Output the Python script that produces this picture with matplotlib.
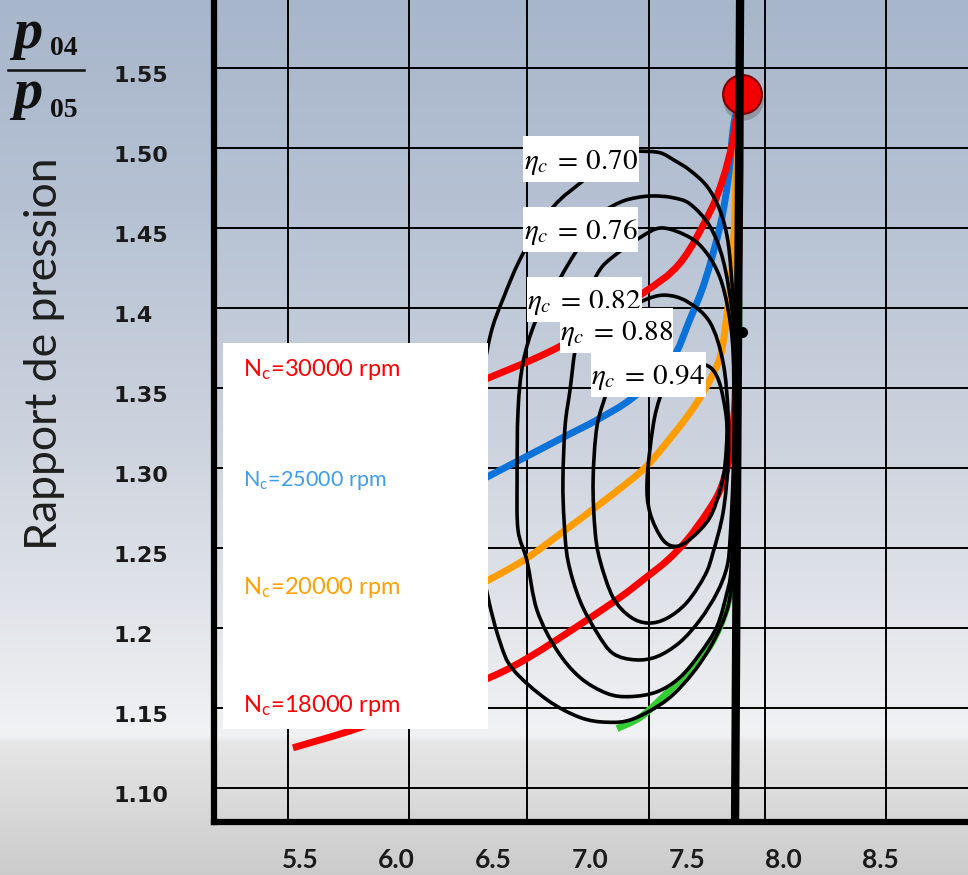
import numpy as np
import matplotlib
matplotlib.use("Agg")
import matplotlib.pyplot as plt
from matplotlib.patches import Rectangle, PathPatch
from matplotlib.path import Path
from matplotlib.transforms import ScaledTranslation

plt.rcParams["mathtext.fontset"] = "stix"

# ---------------- data ----------------
xtick_values = [5.5, 6.0, 6.5, 7.0, 7.5, 8.0, 8.5]
xtick_labels = ["5.5", "6.0", "6.5", "7.0", "7.5", "8.0", "8.5"]
ytick_values = [1.10, 1.15, 1.20, 1.25, 1.30, 1.35, 1.40, 1.45, 1.50, 1.55]
ytick_labels = ["1.10", "1.15", "1.2", "1.25", "1.30", "1.35", "1.4", "1.45", "1.50", "1.55"]
grid_x = [5.44, 6.064, 6.674, 7.305, 7.905, 8.53]

# speed lines (mass flow, pressure ratio)
n30_x = [6.431, 6.845, 7.259, 7.465, 7.620, 7.688, 7.734, 7.760, 7.770]
n30_y = [1.354, 1.376, 1.408, 1.428, 1.460, 1.481, 1.502, 1.521, 1.527]
n25_x = [6.431, 6.654, 6.860, 7.036, 7.222, 7.419, 7.517, 7.595, 7.672, 7.714, 7.739, 7.760]
n25_y = [1.292, 1.306, 1.319, 1.330, 1.344, 1.367, 1.393, 1.417, 1.451, 1.480, 1.511, 1.524]
n20_x = [6.431, 6.654, 6.860, 7.036, 7.207, 7.300, 7.398, 7.502, 7.584, 7.672, 7.708, 7.734,
         7.750, 7.755, 7.760]
n20_y = [1.227, 1.242, 1.260, 1.276, 1.292, 1.302, 1.316, 1.332, 1.347, 1.369, 1.396, 1.424,
         1.461, 1.492, 1.518]
n18_x = [5.464, 5.795, 6.121, 6.483, 6.690, 6.948, 7.155, 7.274, 7.398, 7.502, 7.605, 7.672,
         7.714, 7.734, 7.750, 7.760, 7.770, 7.776, 7.776]
n18_y = [1.125, 1.137, 1.152, 1.169, 1.182, 1.202, 1.219, 1.230, 1.242, 1.255, 1.272, 1.286,
         1.303, 1.321, 1.343, 1.386, 1.436, 1.486, 1.521]
green_x = [7.140, 7.259, 7.362, 7.502, 7.605, 7.672, 7.714, 7.739, 7.755, 7.765, 7.770]
green_y = [1.137, 1.144, 1.155, 1.172, 1.186, 1.201, 1.216, 1.234, 1.280, 1.343, 1.405]

# efficiency contours (closed loops)
eta70_x = [7.207, 7.259, 7.362, 7.440, 7.517, 7.605, 7.672, 7.714, 7.739, 7.760, 7.760, 7.750,
           7.734, 7.708, 7.636, 7.533, 7.398, 7.222, 7.088, 6.948, 6.778, 6.602, 6.535, 6.473,
           6.421, 6.405, 6.431, 6.483, 6.555, 6.654, 6.809, 6.959, 7.078, 7.207]
eta70_y = [1.498, 1.498, 1.497, 1.492, 1.486, 1.476, 1.461, 1.441, 1.409, 1.386, 1.311, 1.261,
           1.230, 1.211, 1.191, 1.172, 1.155, 1.143, 1.141, 1.144, 1.155, 1.174, 1.191, 1.219,
           1.255, 1.299, 1.343, 1.382, 1.407, 1.434, 1.463, 1.479, 1.491, 1.498]
eta76_x = [7.155, 7.243, 7.326, 7.424, 7.517, 7.620, 7.688, 7.734, 7.750, 7.755, 7.750, 7.729,
           7.708, 7.657, 7.569, 7.465, 7.346, 7.207, 7.088, 6.948, 6.829, 6.726, 6.674, 6.628,
           6.623, 6.628, 6.654, 6.716, 6.793, 6.871, 6.948, 7.052, 7.155]
eta76_y = [1.466, 1.469, 1.470, 1.469, 1.465, 1.451, 1.430, 1.399, 1.372, 1.330, 1.280, 1.236,
           1.222, 1.201, 1.184, 1.169, 1.160, 1.157, 1.159, 1.169, 1.186, 1.211, 1.242, 1.261,
           1.292, 1.336, 1.366, 1.391, 1.407, 1.424, 1.439, 1.458, 1.466]
eta82_x = [7.119, 7.259, 7.372, 7.517, 7.605, 7.672, 7.714, 7.739, 7.745, 7.739, 7.724, 7.708,
           7.657, 7.569, 7.465, 7.346, 7.233, 7.119, 7.036, 6.948, 6.886, 6.866, 6.860, 6.871,
           6.897, 6.922, 6.959, 7.000, 7.052, 7.119]
eta82_y = [1.432, 1.444, 1.450, 1.444, 1.434, 1.419, 1.399, 1.374, 1.330, 1.292, 1.255, 1.238,
           1.222, 1.205, 1.191, 1.182, 1.180, 1.184, 1.197, 1.217, 1.242, 1.267, 1.292, 1.326,
           1.349, 1.373, 1.393, 1.411, 1.424, 1.432]
eta88_x = [7.284, 7.388, 7.502, 7.620, 7.688, 7.714, 7.714, 7.688, 7.636, 7.595, 7.502, 7.398,
           7.300, 7.207, 7.119, 7.052, 7.026, 7.016, 7.036, 7.088, 7.119, 7.155, 7.217, 7.284]
eta88_y = [1.405, 1.408, 1.404, 1.391, 1.366, 1.334, 1.303, 1.272, 1.247, 1.233, 1.216, 1.206,
           1.203, 1.207, 1.219, 1.242, 1.261, 1.292, 1.326, 1.349, 1.373, 1.386, 1.399, 1.405]
eta94_x = [7.491, 7.605, 7.657, 7.688, 7.708, 7.698, 7.672, 7.620, 7.533, 7.450, 7.377, 7.310,
           7.295, 7.326, 7.362, 7.414, 7.491]
eta94_y = [1.366, 1.364, 1.357, 1.344, 1.326, 1.302, 1.286, 1.269, 1.257, 1.251, 1.255, 1.272,
           1.292, 1.326, 1.344, 1.358, 1.366]

choke_x = [7.776, 7.750]
choke_y = [1.5925, 1.0786]
point_x, point_y = 7.786, 1.534
knot_x, knot_y = 7.786, 1.385

speed_labels = ["N$_\\mathregular{c}$=30000 rpm", "N$_\\mathregular{c}$=25000 rpm",
                "N$_\\mathregular{c}$=20000 rpm", "N$_\\mathregular{c}$=18000 rpm"]
eta_labels = ["$\\eta_c\\:=\\:0.70$", "$\\eta_c\\:=\\:0.76$", "$\\eta_c\\:=\\:0.82$",
              "$\\eta_c\\:=\\:0.88$", "$\\eta_c\\:=\\:0.94$"]


def smooth_path(xs, ys, closed=False):
    """Smooth drawing path (Catmull-Rom rendered as cubic Bezier) through the given points."""
    p = np.column_stack([xs, ys]).astype(float)
    if closed:
        p = p[:-1]
        n = len(p)
        get = lambda i: p[i % n]
        nseg = n
    else:
        n = len(p)
        get = lambda i: p[min(max(i, 0), n - 1)]
        nseg = n - 1
    verts = [get(0)]
    codes = [Path.MOVETO]
    for i in range(nseg):
        p0, p1, p2, p3 = get(i - 1), get(i), get(i + 1), get(i + 2)
        c1 = p1 + (p2 - p0) / 6.0
        c2 = p2 - (p3 - p1) / 6.0
        verts += [c1, c2, p2]
        codes += [Path.CURVE4] * 3
    return Path(np.array(verts), codes)


# ---------------- figure ----------------
W, H = 968, 875
fig = plt.figure(figsize=(W / 100, H / 100), dpi=100)

# background gradient
stops_y = [0, 200, 440, 600, 735, 742, 875]
stops_c = np.array([(168, 182, 203), (181, 193, 211), (205, 211, 222), (224, 227, 233),
                    (241, 242, 244), (230, 230, 230), (203, 203, 203)]) / 255.0
rows = np.arange(H)
grad = np.stack([np.interp(rows, stops_y, stops_c[:, k]) for k in range(3)], axis=1)
bg = fig.add_axes([0, 0, 1, 1], zorder=-10)
bg.imshow(grad[:, None, :], aspect="auto", extent=[0, 1, 0, 1])
bg.axis("off")


def fx(px):
    return px / W


def fy(py):
    return 1 - py / H


ax = fig.add_axes([fx(214), fy(822), 1 - fx(214), fy(0) - fy(822)])
ax.set_facecolor("none")
ax.set_xlim(5.0558, 8.9545)
ax.set_ylim(1.07862, 1.5925)

for s in ["top", "right"]:
    ax.spines[s].set_visible(False)
for s in ["left", "bottom"]:
    ax.spines[s].set_linewidth(4.5)
    ax.spines[s].set_color("black")
    ax.spines[s].set_zorder(20)

ax.set_xticks(xtick_values)
ax.set_xticklabels(xtick_labels, fontfamily="Lato", fontweight="bold", fontsize=19, color="#1a1a1a")
ax.set_xticks(grid_x, minor=True)
ax.tick_params(axis="x", which="both", length=0, pad=19)
ax.set_yticks(ytick_values)
ax.set_yticklabels(ytick_labels, fontfamily="DejaVu Sans", fontweight="bold", fontsize=16, color="#1a1a1a")
ax.tick_params(axis="y", length=0, pad=72)
down = ScaledTranslation(0, -0.06, fig.dpi_scale_trans)
for lab in ax.get_yticklabels():
    lab.set_horizontalalignment("left")
    lab.set_transform(lab.get_transform() + down)
ax.xaxis.grid(True, which="minor", color="black", lw=1.4, zorder=1)
ax.xaxis.grid(False, which="major")
ax.yaxis.grid(True, which="major", color="black", lw=1.4, zorder=1)


def draw_curve(xs, ys, color, lw, z, closed=False):
    ax.add_patch(PathPatch(smooth_path(xs, ys, closed), facecolor="none", edgecolor=color,
                           lw=lw, capstyle="butt", joinstyle="round", zorder=z))


# speed lines
lw_speed = 5.0
draw_curve(green_x, green_y, "#33cc33", lw_speed, 3)
draw_curve(n18_x, n18_y, "#ff0000", lw_speed, 3)
draw_curve(n20_x, n20_y, "#ff9d00", lw_speed, 3)
draw_curve(n25_x, n25_y, "#0a72d8", lw_speed, 3)
draw_curve(n30_x, n30_y, "#ff0000", lw_speed, 3)

# efficiency contours
for ex, ey in [(eta70_x, eta70_y), (eta76_x, eta76_y), (eta82_x, eta82_y),
               (eta88_x, eta88_y), (eta94_x, eta94_y)]:
    draw_curve(ex, ey, "black", 2.6, 4, closed=True)

# operating point + choke line
ax.plot([point_x + 0.006], [point_y - 0.004], "o", ms=29, color="#555555", alpha=0.35,
        mec="none", zorder=7)
ax.plot([point_x], [point_y], "o", ms=28, mfc="#f20000", mec="#7a0000", mew=1.5, zorder=8)
ax.plot(choke_x, choke_y, color="black", lw=6, solid_capstyle="butt", zorder=9)
ax.plot([knot_x], [knot_y], "o", ms=7, color="black", zorder=9)

# legend box for speed lines
ax.add_patch(Rectangle((fx(223), fy(729)), fx(488) - fx(223), fy(343) - fy(729),
                       transform=fig.transFigure, facecolor="white", edgecolor="none",
                       zorder=10, clip_on=False))
legend_colors = ["#ff0000", "#3d9cf5", "#ffa000", "#ff0000"]
legend_rows = [370, 480, 587, 705]
legend_sizes = [17, 15.5, 17, 17]
for lab, col, row, sz in zip(speed_labels, legend_colors, legend_rows, legend_sizes):
    fig.text(fx(243), fy(row), lab, color=col, fontsize=sz, fontfamily="Lato",
             ha="left", va="center", zorder=11)

# efficiency labels
eta_boxes = [(523, 136, 639, 182), (523, 207, 638, 252), (527, 277, 642, 322),
             (560, 308, 673, 353), (591, 352, 706, 397)]
for i, (lab, (x0, y0, x1, y1)) in enumerate(zip(eta_labels, eta_boxes)):
    ax.add_patch(Rectangle((fx(x0), fy(y1)), fx(x1) - fx(x0), fy(y0) - fy(y1),
                           transform=fig.transFigure, facecolor="white", edgecolor="none",
                           zorder=12 + 2 * i, clip_on=False))
    ax.text(fx((x0 + x1) / 2), fy(y1 - 13), lab, transform=fig.transFigure,
            fontsize=21, ha="center", va="baseline", color="black",
            zorder=13 + 2 * i, clip_on=False)

# axis title
fig.text(fx(45), fy(354), "Rapport de pression", rotation=90, ha="center", va="center",
         fontsize=32, fontfamily="Lato", color="#1e1e1e")

# p04 / p05 fraction
fig.text(fx(13), fy(48), "p", fontfamily="Liberation Serif", fontweight="bold",
         fontstyle="italic", fontsize=42, ha="left", va="baseline", color="#111111")
fig.text(fx(50), fy(55), "04", fontfamily="Liberation Serif", fontweight="bold",
         fontsize=20, ha="left", va="baseline", color="#111111")
fig.add_artist(plt.Line2D([fx(8), fx(84)], [fy(70), fy(70)], color="#111111", lw=1.8))
fig.text(fx(13), fy(108), "p", fontfamily="Liberation Serif", fontweight="bold",
         fontstyle="italic", fontsize=42, ha="left", va="baseline", color="#111111")
fig.text(fx(50), fy(117), "05", fontfamily="Liberation Serif", fontweight="bold",
         fontsize=20, ha="left", va="baseline", color="#111111")

fig.savefig("out.png", dpi=100)
